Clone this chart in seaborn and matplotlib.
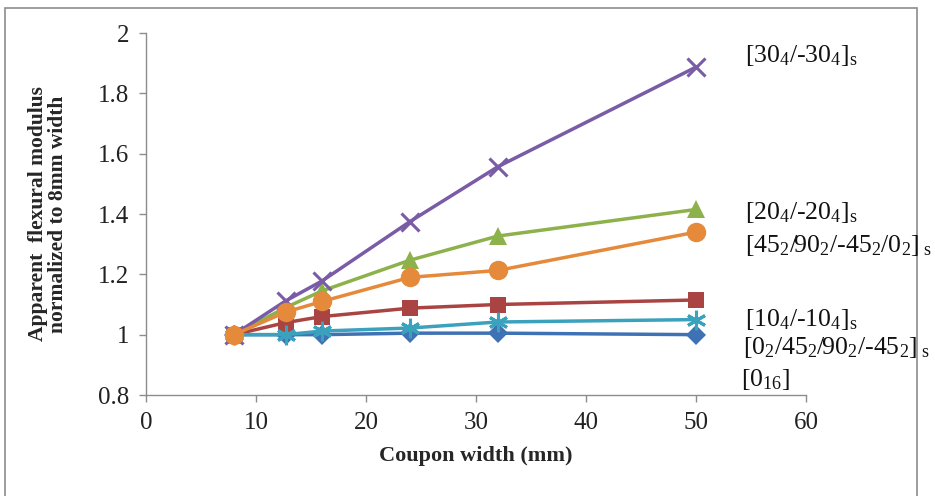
import matplotlib
matplotlib.use("Agg")
import matplotlib.pyplot as plt
import seaborn as sns
import pandas as pd
from matplotlib.patches import Rectangle

# ---- data ----
widths = [8, 12.7, 16, 24, 32, 50]
s_0_16 = [1.0, 1.0, 1.0, 1.005, 1.005, 1.0]
s_10 = [1.0, 1.04, 1.06, 1.088, 1.1, 1.115]
s_20 = [1.0, 1.09, 1.145, 1.247, 1.327, 1.415]
s_30 = [1.0, 1.112, 1.178, 1.375, 1.557, 1.887]
s_quasi = [1.0, 1.0, 1.012, 1.022, 1.042, 1.05]
s_45 = [1.0, 1.075, 1.11, 1.19, 1.213, 1.34]

series_names = ["[0_16]", "[10_4/-10_4]s", "[20_4/-20_4]s", "[30_4/-30_4]s",
                "[0_2/45_2/90_2/-45_2]s", "[45_2/90_2/-45_2/0_2]s"]
series_vals = [s_0_16, s_10, s_20, s_30, s_quasi, s_45]
labels_tex = [
    r"[0$_{16}$]",
    r"[10$_4$/-10$_4$]$_{\mathrm{s}}$",
    r"[20$_4$/-20$_4$]$_{\mathrm{s}}$",
    r"[30$_4$/-30$_4$]$_{\mathrm{s}}$",
    r"[0$_2$/45$_2$/90$_2$/-45$_2$]$_{\ \mathrm{s}}$",
    r"[45$_2$/90$_2$/-45$_2$/0$_2$]$_{\ \mathrm{s}}$",
]
xticks = [0, 10, 20, 30, 40, 50, 60]
yticks = [0.8, 1.0, 1.2, 1.4, 1.6, 1.8, 2.0]
ytick_labels = ["0.8", "1", "1.2", "1.4", "1.6", "1.8", "2"]

# ---- style ----
colors = ["#3F72B4", "#A94442", "#8DB14B", "#7A5BA6", "#3BA2BE", "#E5893A"]
markers = ["D", "s", "^", "x", (6, 2, 0), "o"]
msizes = [10, 12, 13, 13, 14, 14]

sns.set_theme(style="white")
plt.rcParams["font.family"] = ["Liberation Serif", "DejaVu Serif"]
plt.rcParams["mathtext.fontset"] = "custom"
plt.rcParams["mathtext.rm"] = "Liberation Serif"
plt.rcParams["mathtext.it"] = "Liberation Serif:italic"
plt.rcParams["mathtext.bf"] = "Liberation Serif:bold"

fig = plt.figure(figsize=(9.35, 4.96), dpi=100)
ax = fig.add_axes([146/935, 1-395/496, 660/935, 362/496])

for name, vals, c, m, ms in zip(series_names, series_vals, colors, markers, msizes):
    df = pd.DataFrame({"w": widths, "v": vals})
    mew = 2.2 if m in ("x", (6, 2, 0)) else 0
    sns.lineplot(data=df, x="w", y="v", ax=ax, color=c, marker=m, markersize=ms,
                 markeredgecolor=c, markeredgewidth=mew, linewidth=2.5,
                 clip_on=False, zorder=3)

ax.set_xlim(0, 60)
ax.set_ylim(0.8, 2.0)
ax.set_xticks(xticks)
ax.set_yticks(yticks)
ax.set_yticklabels(ytick_labels)
for sp in ["top", "right"]:
    ax.spines[sp].set_visible(False)
for sp in ["left", "bottom"]:
    ax.spines[sp].set_color("#8C8C8C")
    ax.spines[sp].set_linewidth(1.0)
ax.tick_params(axis="both", direction="out", length=5, width=1, color="#8C8C8C",
               labelsize=18, labelcolor="#222222", left=True, bottom=True)
ax.tick_params(axis="x", pad=7)
ax.tick_params(axis="y", pad=7)
ax.set_xlabel("Coupon width (mm)", fontsize=16, fontweight="bold", labelpad=9)
ax.set_ylabel("Apparent  flexural modulus\nnormalized to 8mm width", fontsize=15.5,
              fontweight="bold", labelpad=22, linespacing=0.95)

# right-side labels
pos = {
    3: (745, 55), 2: (745, 212), 5: (745, 245),
    1: (745, 320), 4: (743, 348), 0: (741, 379),
}
for i, (px, py) in pos.items():
    fig.text(px/935, 1-py/496, labels_tex[i], fontsize=18.5, ha="left", va="center",
             color="#111111")

# outer frame
fig.patches.append(Rectangle((5/935, -0.01), 912/935, 1-8/496+0.01,
                             transform=fig.transFigure, fill=False,
                             edgecolor="#8C8C8C", linewidth=1.2))

fig.savefig("out.png", dpi=100)
